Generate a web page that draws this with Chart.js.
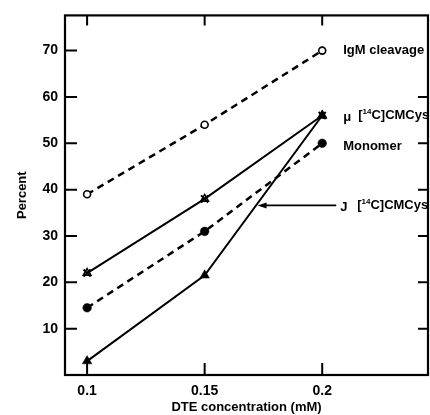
<!DOCTYPE html>
<html>
<head>
<meta charset="utf-8">
<script src="https://cdn.jsdelivr.net/npm/chart.js@4"></script>
<style>
  body { margin:0; background:#fff; }
  #wrap { width:430px; height:415px; }
</style>
</head>
<body>
<div id="wrap"><canvas id="chart" width="430" height="415"></canvas></div>
<script>
// data
const dte      = [0.1, 0.15, 0.2];          // DTE concentration (mM)
const igm      = [39, 54, 70];              // IgM cleavage
const muCys    = [22, 38, 56];              // mu [14C]CMCys
const monomer  = [14.5, 31, 50];            // Monomer
const jCys     = [3, 21.5, 56];             // J [14C]CMCys
const xTicks   = [0.1, 0.15, 0.2];
const xLabels  = ['0.1', '0.15', '0.2'];
const yTicks   = [10, 20, 30, 40, 50, 60, 70];

const pts = arr => dte.map((x, i) => ({x, y: arr[i]}));
const FONT = '"Liberation Sans", Arial, sans-serif';

// frame, inward ticks and the text labels next to the curves
const decor = {
  id: 'decor',
  afterDraw(chart) {
    const {ctx, chartArea: a, scales: {x, y}} = chart;
    ctx.save();
    ctx.strokeStyle = '#000';
    ctx.lineWidth = 2.2;
    ctx.strokeRect(a.left, a.top, a.right - a.left, a.bottom - a.top);
    ctx.lineWidth = 2;
    ctx.beginPath();
    yTicks.forEach(v => {
      const py = y.getPixelForValue(v);
      ctx.moveTo(a.left, py); ctx.lineTo(a.left + 12, py);
      if (v < 70) { ctx.moveTo(a.right, py); ctx.lineTo(a.right - 10, py); }
    });
    xTicks.forEach(v => {
      const px = x.getPixelForValue(v);
      ctx.moveTo(px, a.bottom); ctx.lineTo(px, a.bottom - 12);
      ctx.moveTo(px, a.top); ctx.lineTo(px, a.top + 10);
    });
    ctx.stroke();

    // labels
    ctx.fillStyle = '#000';
    ctx.textBaseline = 'middle';
    const lx = x.getPixelForValue(0.2);
    const big = 'bold 13px ' + FONT, small = 'bold 8px ' + FONT;
    const cmcys = (sx, sy) => {
      ctx.font = big; ctx.fillText('[', sx, sy);
      let w = ctx.measureText('[').width;
      ctx.font = small; ctx.fillText('14', sx + w, sy - 4);
      w += ctx.measureText('14').width;
      ctx.font = big; ctx.fillText('C]CMCys', sx + w, sy);
    };
    ctx.font = big;
    ctx.fillText('IgM cleavage', lx + 21, y.getPixelForValue(igm[2]));
    ctx.fillText('Monomer', lx + 21, y.getPixelForValue(monomer[2]) + 3);
    ctx.fillText('\u03bc', lx + 21, y.getPixelForValue(muCys[2]) + 2);
    cmcys(lx + 36, y.getPixelForValue(muCys[2]));
    const jy = y.getPixelForValue(36.6);
    ctx.fillText('J', lx + 18, jy + 2);
    cmcys(lx + 35, jy);

    // arrow pointing to the J curve
    const ax0 = lx + 14, ax1 = x.getPixelForValue(0.1725);
    ctx.lineWidth = 1.6;
    ctx.beginPath(); ctx.moveTo(ax0, jy); ctx.lineTo(ax1 + 6, jy); ctx.stroke();
    ctx.beginPath();
    ctx.moveTo(ax1, jy); ctx.lineTo(ax1 + 9, jy - 3); ctx.lineTo(ax1 + 9, jy + 3);
    ctx.closePath(); ctx.fill();
    ctx.restore();
  }
};

new Chart(document.getElementById('chart'), {
  type: 'scatter',
  data: {
    datasets: [
      { label: 'IgM cleavage', data: pts(igm), showLine: true,
        borderColor: '#000', borderWidth: 2.5, borderDash: [7, 5],
        pointStyle: 'circle', pointRadius: 3.5, pointBackgroundColor: '#fff',
        pointBorderColor: '#000', pointBorderWidth: 1.6 },
      { label: 'Monomer', data: pts(monomer), showLine: true,
        borderColor: '#000', borderWidth: 2.5, borderDash: [7, 5],
        pointStyle: 'circle', pointRadius: 4.3, pointBackgroundColor: '#000',
        pointBorderColor: '#000', pointBorderWidth: 0.5 },
      { label: 'mu [14C]CMCys', data: pts(muCys), showLine: true,
        borderColor: '#000', borderWidth: 2,
        pointStyle: 'crossRot', pointRadius: 5, pointBorderColor: '#000',
        pointBorderWidth: 2 },
      { label: 'mu [14C]CMCys (triangle)', data: pts(muCys), showLine: false,
        pointStyle: 'triangle', pointRadius: 4.5, pointBackgroundColor: 'rgba(0,0,0,0)',
        pointBorderColor: '#000', pointBorderWidth: 1.5 },
      { label: 'J [14C]CMCys', data: pts(jCys), showLine: true,
        borderColor: '#000', borderWidth: 2,
        pointStyle: 'triangle', pointRadius: 5.5, pointBackgroundColor: '#000',
        pointBorderColor: '#000', pointBorderWidth: 0.5 }
    ]
  },
  options: {
    responsive: false,
    animation: false,
    devicePixelRatio: 1,
    layout: { autoPadding: false, padding: { top: 14, right: 2, left: 15, bottom: 0 } },
    plugins: { legend: { display: false }, tooltip: { enabled: false } },
    scales: {
      x: {
        type: 'linear', min: 0.0906, max: 0.245,
        afterBuildTicks: s => { s.ticks = xTicks.map(v => ({value: v})); },
        afterFit: s => { s.height = 40; },
        grid: { display: false, drawTicks: false },
        border: { display: false },
        ticks: { padding: 8, color: '#000', font: { family: FONT, size: 14, weight: 'bold' },
                 callback: v => xLabels[xTicks.indexOf(v)] },
        title: { display: true, text: 'DTE concentration (mM)', color: '#000',
                 padding: { top: 0, bottom: 0 },
                 font: { family: FONT, size: 13, weight: 'bold' } }
      },
      y: {
        min: 0, max: 77.6,
        afterBuildTicks: s => { s.ticks = yTicks.map(v => ({value: v})); },
        afterFit: s => { s.width = 50; },
        grid: { display: false, drawTicks: false },
        border: { display: false },
        ticks: { padding: 7, color: '#000', font: { family: FONT, size: 14, weight: 'bold' } },
        title: { display: true, text: 'Percent', color: '#000',
                 padding: 0,
                 font: { family: FONT, size: 13, weight: 'bold' } }
      }
    }
  },
  plugins: [decor]
});
</script>
</body>
</html>
